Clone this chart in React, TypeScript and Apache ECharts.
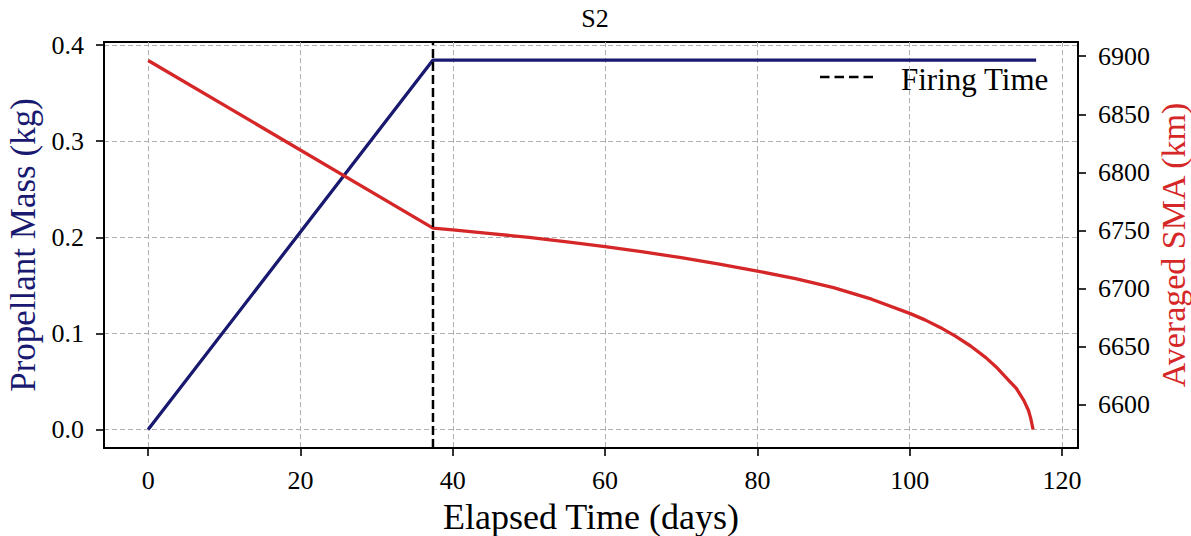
import React, { useEffect, useRef } from "react";
import * as echarts from "echarts";

const FONT = "'Liberation Serif', serif";

// Propellant mass (kg) vs elapsed time (days)
const massDays = [0, 37.4, 116.6];
const massKg = [0, 0.3844, 0.3844];

// Averaged SMA (km) vs elapsed time (days)
const smaDays = [0, 37.4, 40, 45, 50, 55, 60, 65, 70, 75, 80, 85, 90, 95, 100, 102, 104, 106, 108, 110, 111.5, 113, 114, 115, 115.6, 115.9, 116.2];
const smaKm = [6896.3, 6752, 6750.5, 6747.3, 6744, 6740.2, 6736, 6731.5, 6726.5, 6721, 6715, 6708.5, 6700.8, 6690.8, 6678.6, 6673, 6666.5, 6659, 6650.5, 6640.5, 6631.5, 6621, 6614, 6603.5, 6595, 6588, 6578.6];

const firingTime = 37.4;

const xTicks = [0, 20, 40, 60, 80, 100, 120];
const leftTicks = [0, 0.1, 0.2, 0.3, 0.4];
const rightTicks = [6600, 6650, 6700, 6750, 6800, 6850, 6900];

const xMin = -5.8;
const xMax = 122.1;
const leftMin = -0.0192;
const leftMax = 0.4032;
const rightMin = 6562.7;
const rightMax = 6912.2;

const BLUE = "#191970";
const RED = "#d62728";

export default function App() {
  const ref = useRef<HTMLDivElement>(null);

  useEffect(() => {
    if (!ref.current) return;
    const chart = echarts.init(ref.current, null, { renderer: "svg" });

    const tickStyle = { show: true, inside: false, length: 8, lineStyle: { color: "#000", width: 1.6 } };
    const gridLine = { show: true, lineStyle: { color: "#b0b0b0", width: 1, type: [5, 3] as any } };
    const labelBase = { fontFamily: FONT, fontSize: 26, color: "#000" };

    chart.setOption({
      animation: false,
      backgroundColor: "#fff",
      textStyle: { fontFamily: FONT },
      title: {
        text: "S2",
        left: 590,
        top: 0,
        textAlign: "center",
        textStyle: { fontFamily: FONT, fontSize: 26, fontWeight: "normal", color: "#000" },
      },
      grid: {
        left: 104,
        right: 113,
        top: 42,
        bottom: 88,
        show: true,
        borderColor: "#000",
        borderWidth: 2,
        backgroundColor: "transparent",
        containLabel: false,
        outerBoundsMode: "none",
      },
      graphic: [
        {
          type: "line",
          shape: { x1: 820, y1: 77, x2: 877, y2: 77 },
          style: { stroke: "#000", lineWidth: 2.5, lineDash: [9.5, 5] },
        },
        {
          type: "text",
          x: 901,
          y: 79,
          style: {
            text: "Firing Time",
            fontSize: 31,
            fontFamily: FONT,
            fill: "#000",
            textAlign: "left",
            textVerticalAlign: "middle",
          },
        },
      ],
      xAxis: {
        type: "value",
        min: xMin,
        max: xMax,
        name: "Elapsed Time (days)",
        nameLocation: "middle",
        nameGap: 51,
        nameMoveOverlap: false,
        nameTextStyle: { fontFamily: FONT, fontSize: 36, color: "#000" },
        axisLine: { show: true, onZero: false, lineStyle: { color: "#000", width: 2 } },
        axisTick: { ...tickStyle, customValues: xTicks },
        axisLabel: {
          ...labelBase,
          customValues: xTicks,
          margin: 19,
          formatter: (v: number) => String(Math.round(v)),
        },
        splitLine: gridLine,
      },
      yAxis: [
        {
          type: "value",
          position: "left",
          min: leftMin,
          max: leftMax,
          name: "Propellant Mass (kg)",
          nameLocation: "middle",
          nameGap: 63,
          nameRotate: 90,
          nameMoveOverlap: false,
          nameTextStyle: { fontFamily: FONT, fontSize: 35, color: BLUE },
          axisLine: { show: true, onZero: false, lineStyle: { color: "#000", width: 2 } },
          axisTick: { ...tickStyle, customValues: leftTicks },
          axisLabel: {
            ...labelBase,
            customValues: leftTicks,
            margin: 20,
            formatter: (v: number) => v.toFixed(1),
          },
          splitLine: gridLine,
        },
        {
          type: "value",
          position: "right",
          min: rightMin,
          max: rightMax,
          name: "Averaged SMA (km)",
          nameLocation: "middle",
          nameGap: 78,
          nameRotate: 90,
          nameMoveOverlap: false,
          nameTextStyle: { fontFamily: FONT, fontSize: 34, color: RED },
          axisLine: { show: true, onZero: false, lineStyle: { color: "#000", width: 2 } },
          axisTick: { ...tickStyle, customValues: rightTicks },
          axisLabel: {
            ...labelBase,
            customValues: rightTicks,
            margin: 20,
            formatter: (v: number) => String(Math.round(v)),
          },
          splitLine: { show: false },
        },
      ],
      series: [
        {
          name: "Propellant Mass",
          type: "line",
          yAxisIndex: 0,
          data: massDays.map((d, i) => [d, massKg[i]]),
          symbol: "none",
          showSymbol: false,
          lineStyle: { color: BLUE, width: 3.3 },
          itemStyle: { color: BLUE },
          z: 3,
        },
        {
          name: "Averaged SMA",
          type: "line",
          yAxisIndex: 1,
          data: smaDays.map((d, i) => [d, smaKm[i]]),
          symbol: "none",
          showSymbol: false,
          lineStyle: { color: RED, width: 3.3 },
          itemStyle: { color: RED },
          z: 3,
        },
        {
          name: "Firing Time",
          type: "line",
          yAxisIndex: 0,
          data: [
            [firingTime, leftMin],
            [firingTime, leftMax],
          ],
          symbol: "none",
          showSymbol: false,
          lineStyle: { color: "#000", width: 2.5, type: [9, 4] },
          itemStyle: { color: "#000" },
          z: 4,
        },
      ],
    });

    return () => chart.dispose();
  }, []);

  return (
    <div
      ref={ref}
      style={{ position: "fixed", left: 0, top: 0, width: 1191, height: 536, background: "#fff" }}
    />
  );
}
